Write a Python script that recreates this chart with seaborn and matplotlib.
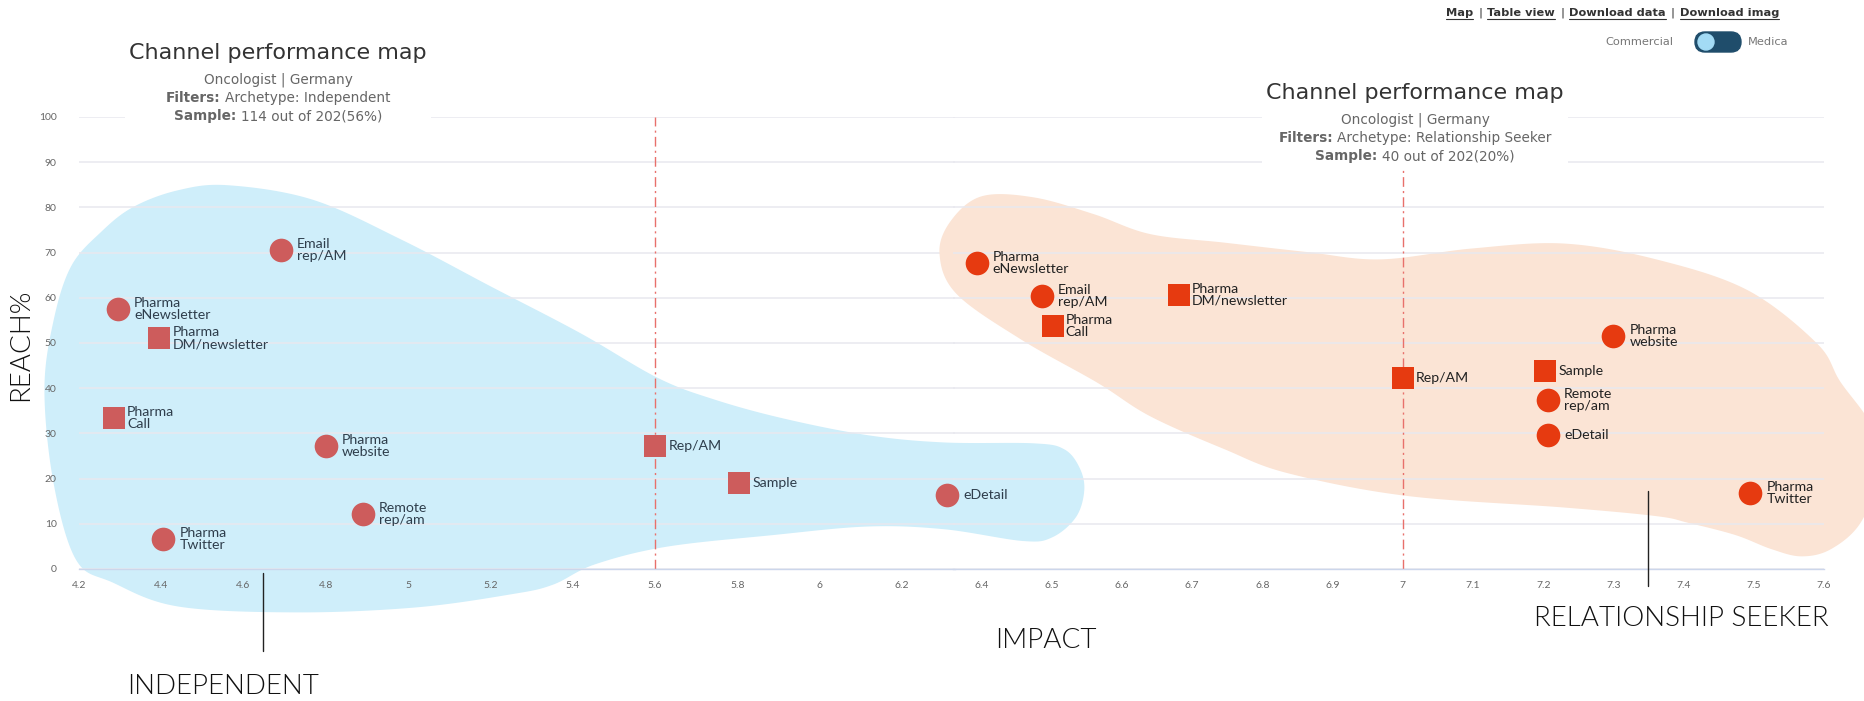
import numpy as np
import pandas as pd
import matplotlib.pyplot as plt
import seaborn as sns
from matplotlib.offsetbox import TextArea, HPacker, VPacker, AnnotationBbox
from matplotlib.patches import FancyBboxPatch, Circle
from matplotlib.lines import Line2D
from matplotlib.transforms import IdentityTransform

# ---- data: Independent archetype (left map)
indep_labels = ["Email\nrep/AM", "Pharma\neNewsletter", "Pharma\nDM/newsletter", "Pharma\nCall",
                "Pharma\nwebsite", "Remote\nrep/am", "Pharma\nTwitter", "Rep/AM", "Sample", "eDetail"]
indep_impact = [4.69, 4.295, 4.395, 4.285, 4.80, 4.89, 4.405, 5.60, 5.805, 6.31]
indep_reach = [70.5, 57.5, 51.0, 33.4, 27.2, 12.2, 6.6, 27.2, 19.1, 16.4]
indep_shape = ["circle", "circle", "square", "square", "circle", "circle", "circle",
               "square", "square", "circle"]

# ---- data: Relationship Seeker archetype (right map)
seeker_labels = ["Pharma\neNewsletter", "Email\nrep/AM", "Pharma\nCall", "Pharma\nDM/newsletter",
                 "Rep/AM", "Pharma\nwebsite", "Sample", "Remote\nrep/am", "eDetail", "Pharma\nTwitter"]
seeker_impact = [6.393, 6.486, 6.501, 6.681, 7.00, 7.30, 7.203, 7.207, 7.207, 7.495]
seeker_reach = [67.8, 60.4, 53.7, 60.7, 42.3, 51.6, 43.8, 37.4, 29.7, 16.9]
seeker_shape = ["circle", "circle", "square", "square", "square", "circle", "square",
                "circle", "circle", "circle"]

indep_ticks = [4.2, 4.4, 4.6, 4.8, 5.0, 5.2, 5.4, 5.6, 5.8, 6.0, 6.2]
seeker_ticks = [6.4, 6.5, 6.6, 6.7, 6.8, 6.9, 7.0, 7.1, 7.2, 7.3, 7.4, 7.5, 7.6]
reach_ticks = [0, 10, 20, 30, 40, 50, 60, 70, 80, 90, 100]

# hand-drawn cluster outlines (impact / reach units)
blue_x = [4.563, 4.768, 4.985, 5.201, 5.418, 5.606, 5.744, 5.912, 6.117, 6.302, 6.521, 6.594,
          6.631, 6.643, 6.623, 6.565, 6.493, 6.302, 6.117, 5.886, 5.626, 5.453, 5.351, 5.250,
          5.019, 4.730, 4.441, 4.282, 4.193, 4.138, 4.116, 4.138, 4.181, 4.254, 4.332, 4.441]
blue_y = [84.9, 81.7, 72.8, 62.5, 52.2, 42.3, 37.5, 33.3, 29.6, 28.0, 27.8, 26.5,
          22.5, 17.5, 11.5, 7.0, 6.2, 8.8, 9.4, 7.5, 4.9, 1.0, -3.5, -5.6,
          -8.5, -9.6, -8.3, -3.0, 2.0, 19.1, 39.6, 54.9, 67.0, 74.6, 80.1, 83.8]
peach_x = [6.340, 6.357, 6.401, 6.475, 6.560, 6.640, 6.746, 6.865, 6.968, 7.098, 7.230, 7.361,
           7.491, 7.590, 7.623, 7.669, 7.677, 7.652, 7.610, 7.568, 7.525, 7.474, 7.407, 7.361,
           7.230, 7.004, 6.836, 6.746, 6.640, 6.565, 6.457, 6.364]
peach_y = [69.9, 77.2, 82.5, 82.2, 78.5, 74.1, 72.2, 70.1, 68.5, 70.9, 72.0, 68.5,
           61.7, 49.9, 41.5, 31.2, 20.7, 10.2, 4.4, 2.8, 4.4, 7.5, 10.2, 11.7,
           13.6, 16.2, 21.2, 26.5, 33.8, 41.2, 50.7, 60.9]

W, H = 1864, 701
LEFT_RED = "#cd5c5c"
RIGHT_RED = "#e63a10"
GRID = "#e8e8ef"
AXIS = "#ccd6eb"


def fx(x):
    return x / W


def fy(y):
    return 1 - y / H


def smooth_closed(xs, ys, n=24):
    # closed Catmull-Rom spline through the outline points
    pts = np.column_stack([xs, ys])
    P = np.vstack([pts[-1], pts, pts[0], pts[1]])
    t = np.linspace(0, 1, n, endpoint=False)[:, None]
    out = []
    for i in range(1, len(pts) + 1):
        p0, p1, p2, p3 = P[i - 1], P[i], P[i + 1], P[i + 2]
        out.append(0.5 * (2 * p1 + (-p0 + p2) * t + (2 * p0 - 5 * p1 + 4 * p2 - p3) * t ** 2
                          + (-p0 + 3 * p1 - 3 * p2 + p3) * t ** 3))
    out = np.vstack(out)
    return out[:, 0], out[:, 1]


def style_axis(ax, xlim, xticks, show_y):
    ax.set_facecolor("none")
    ax.set_xlim(*xlim)
    ax.set_ylim(0, 100)
    ax.set_xticks(xticks)
    ax.set_xticklabels([f"{v:g}" for v in xticks])
    ax.set_yticks(reach_ticks)
    ax.grid(axis="y", color=GRID, lw=1.1)
    ax.grid(axis="x", visible=False)
    ax.set_axisbelow(True)
    for side in ["top", "right", "left"]:
        ax.spines[side].set_visible(False)
    ax.spines["bottom"].set_color(AXIS)
    ax.spines["bottom"].set_linewidth(1)
    ax.tick_params(axis="x", length=4, color=AXIS, labelsize=7.5, labelcolor="#666666", pad=5)
    ax.tick_params(axis="y", length=0, labelsize=7.5, labelcolor="#666666", pad=16,
                   labelleft=show_y)
    ax.set_xlabel("")
    ax.set_ylabel("")


def draw_points(ax, df, color, text_color):
    for shape, marker, s in [("circle", "o", 290), ("square", "s", 235)]:
        sub = df[df["shape"] == shape]
        sns.scatterplot(data=sub, x="impact", y="reach", marker=marker, s=s, color=color,
                        linewidth=0, ax=ax, zorder=4, legend=False, clip_on=False)
    for _, row in df.iterrows():
        off = 11.5 if row["shape"] == "circle" else 9.5
        ax.annotate(row["label"], (row["impact"], row["reach"]), xytext=(off, 0),
                    textcoords="offset points", ha="left", va="center", fontsize=10.2,
                    linespacing=1.0, color=text_color, zorder=5, annotation_clip=False)


def title_block(ax, cx, cy, archetype, sample):
    sub = dict(size=9.8, color="#666666", family="DejaVu Sans")
    bold = dict(size=9.8, color="#666666", family="DejaVu Sans", weight="bold")
    title = TextArea("Channel performance map",
                     textprops=dict(size=16, color="#333333", family="DejaVu Sans"))
    l1 = TextArea("Oncologist | Germany", textprops=sub)
    l2 = HPacker(children=[TextArea("Filters:", textprops=bold),
                           TextArea("Archetype: " + archetype, textprops=sub)],
                 sep=3, align="baseline", pad=0)
    l3 = HPacker(children=[TextArea("Sample:", textprops=bold),
                           TextArea(sample, textprops=sub)],
                 sep=3, align="baseline", pad=0)
    lines = VPacker(children=[l1, l2, l3], sep=3.0, align="center", pad=0)
    block = VPacker(children=[title, lines], sep=7, align="center", pad=0)
    ab = AnnotationBbox(block, (cx, H - cy), xycoords="figure pixels", box_alignment=(0.5, 0.5),
                        frameon=True, pad=0.3, annotation_clip=False,
                        bboxprops=dict(facecolor="white", edgecolor="none"), zorder=6)
    ax.add_artist(ab)


sns.set_style("white")
plt.rcParams["font.family"] = ["Lato", "DejaVu Sans"]

indep = pd.DataFrame({"label": indep_labels, "impact": indep_impact,
                      "reach": indep_reach, "shape": indep_shape})
seeker = pd.DataFrame({"label": seeker_labels, "impact": seeker_impact,
                       "reach": seeker_reach, "shape": seeker_shape})

fig = plt.figure(figsize=(W / 100, H / 100), dpi=100)
ax_l = fig.add_axes([fx(79), fy(569), (955 - 79) / W, (569 - 117) / H])
ax_r = fig.add_axes([fx(953), fy(569), (1824 - 953) / W, (569 - 117) / H])

# cluster blobs
bx, by = smooth_closed(blue_x, blue_y)
ax_l.fill(bx, by, color="#cfeefa", lw=0, zorder=0.3, clip_on=False)
px_, py_ = smooth_closed(peach_x, peach_y)
ax_r.fill(px_, py_, color="#fbe4d5", lw=0, zorder=0.3, clip_on=False)

ax_l.axvline(5.6, color="#e8706b", lw=1, ls=(0, (7, 3, 1.5, 3)), zorder=2)
ax_r.axvline(7.0, color="#e8706b", lw=1, ls=(0, (7, 3, 1.5, 3)), zorder=2)

draw_points(ax_l, indep, LEFT_RED, "#2f3e4c")
draw_points(ax_r, seeker, RIGHT_RED, "#222222")

style_axis(ax_l, (4.2, 4.2 + (955 - 79) / 411.5), indep_ticks, True)
style_axis(ax_r, (7.6 - (1824 - 953) / 702, 7.6), seeker_ticks, False)

title_block(ax_l, 278, 83, "Independent", "114 out of 202(56%)")
title_block(ax_r, 1415, 123, "Relationship Seeker", "40 out of 202(20%)")

# axis titles and archetype call-outs
big = dict(fontsize=20, fontweight=300, color="#111111")
fig.text(fx(21), fy(345), "REACH%", rotation=90, ha="center", va="center", **big)
fig.text(fx(1046), fy(640), "IMPACT", ha="center", va="center", **big)
fig.text(fx(223), fy(687), "INDEPENDENT", ha="center", va="center", **big)
fig.text(fx(1681), fy(618), "RELATIONSHIP SEEKER", ha="center", va="center", **big)
fig.add_artist(Line2D([fx(263), fx(263)], [fy(573), fy(651)], color="#222222", lw=1))
fig.add_artist(Line2D([fx(1648), fx(1648)], [fy(491), fy(586)], color="#222222", lw=1))

# dashboard controls (top right)
renderer = fig.canvas.get_renderer()
x = 1446
pieces = ["Map", "|", "Table view", "|", "Download data", "|", "Download imag"]
for p in pieces:
    t = fig.text(fx(x), fy(16), p, ha="left", va="baseline", fontsize=8.2,
                 color="#333333", family="DejaVu Sans", fontweight="bold" if p != "|" else "normal")
    bb = t.get_window_extent(renderer)
    if p != "|":
        fig.add_artist(Line2D([bb.x0 / W, bb.x1 / W], [fy(18.5), fy(18.5)], color="#333333", lw=0.8))
    x = bb.x1 + 5

fig.text(fx(1673), fy(42), "Commercial", ha="right", va="center", fontsize=8.2,
         color="#777777", family="DejaVu Sans")
fig.add_artist(FancyBboxPatch((1695, H - 52), 46, 20, transform=IdentityTransform(),
                              boxstyle="round,pad=0,rounding_size=10", color="#1f4d6b"))
fig.add_artist(Circle((1706, H - 42), 8, transform=IdentityTransform(), color="#a3dbf5"))
fig.text(fx(1748), fy(42), "Medica", ha="left", va="center", fontsize=8.2,
         color="#777777", family="DejaVu Sans")

fig.savefig("out.png", dpi=100)
